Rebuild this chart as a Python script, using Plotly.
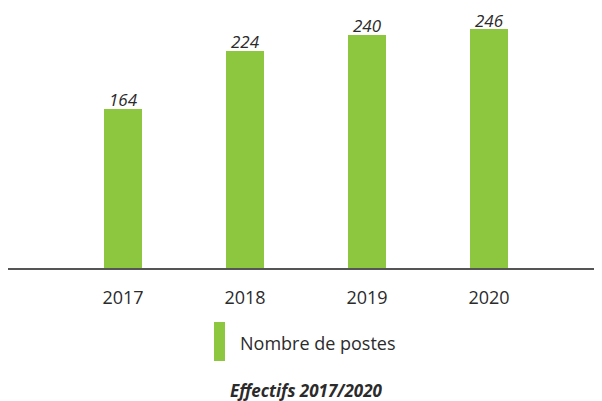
import plotly.graph_objects as go

years = ["2017", "2018", "2019", "2020"]
postes = [164, 224, 240, 246]
legend_label = "Nombre de postes"
title_text = "Effectifs 2017/2020"

GREEN = "#8DC63F"
TXT = "#2b2b2b"
FONT = "Open Sans"

# page is offset by the default 8px body margin
PLOT_H = 260.0
PLOT_W = 594.0

fig = go.Figure()
fig.add_trace(go.Bar(
    x=years, y=postes, width=0.31, marker=dict(color=GREEN, line=dict(width=0)),
    name=legend_label, showlegend=False,
))

# value labels (category index positions on the category axis)
for i, v in enumerate(postes):
    fig.add_annotation(x=i, y=v, xref="x", yref="y", text=str(v), showarrow=False,
                       xanchor="center", yanchor="middle", yshift=9,
                       font=dict(family=FONT, size=17, color=TXT, style="italic"))

fig.update_layout(
    width=594, height=393,
    margin=dict(l=0, r=0, t=0, b=133),
    paper_bgcolor="white", plot_bgcolor="white",
    bargap=0,
    xaxis=dict(type="category", range=[-0.943, 3.926], showgrid=False,
               showline=True, linecolor="#555555", linewidth=1.6,
               ticks="", ticklabelstandoff=13,
               tickfont=dict(family=FONT, size=18, color=TXT)),
    yaxis=dict(range=[0, 267.8], visible=False),
)

def px(xp):
    return (xp - 8) / PLOT_W

def py(yp):
    return (268 - yp) / PLOT_H

fig.add_shape(type="rect", xref="paper", yref="paper",
              x0=px(214), x1=px(225), y0=py(361), y1=py(322),
              fillcolor=GREEN, line=dict(width=0))
fig.add_annotation(text=legend_label, xref="paper", yref="paper",
                   x=px(238), y=py(343), xanchor="left", yanchor="middle",
                   showarrow=False, font=dict(family=FONT, size=18, color=TXT))
fig.add_annotation(text="<b><i>" + title_text + "</i></b>", xref="paper", yref="paper",
                   x=px(306), y=py(390), xanchor="center", yanchor="middle",
                   showarrow=False, font=dict(family=FONT, size=17, color=TXT))

fig.write_html("out.html")
